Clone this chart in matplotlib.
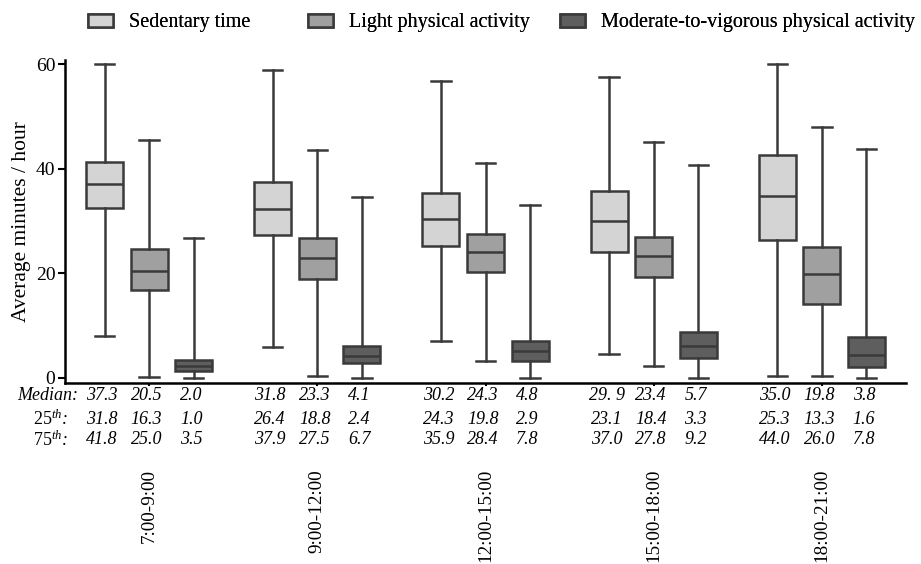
import matplotlib
matplotlib.use("Agg")
import matplotlib.pyplot as plt
import matplotlib.transforms as mtransforms
from matplotlib.patches import Patch

plt.rcParams['font.family'] = ['Liberation Serif', 'DejaVu Serif']
plt.rcParams['mathtext.fontset'] = 'custom'
plt.rcParams['mathtext.rm'] = 'Liberation Serif'
plt.rcParams['mathtext.it'] = 'Liberation Serif:italic'
plt.rcParams['mathtext.default'] = 'it'

# ---------------- data ----------------
periods = ["7:00-9:00", "9:00-12:00", "12:00-15:00", "15:00-18:00", "18:00-21:00"]
series = ["Sedentary time", "Light physical activity",
          "Moderate-to-vigorous physical activity"]

# drawn box statistics: [whislo, q1, median, q3, whishi]
sed_stats = [[8.0, 32.4, 37.1, 41.2, 60.0],
             [5.9, 27.3, 32.2, 37.4, 58.9],
             [7.1, 25.3, 30.4, 35.3, 56.8],
             [4.5, 24.1, 30.0, 35.7, 57.6],
             [0.4, 26.3, 34.7, 42.7, 60.0]]
lpa_stats = [[0.2, 16.7, 20.5, 24.6, 45.5],
             [0.4, 18.9, 23.0, 26.8, 43.5],
             [3.2, 20.3, 24.0, 27.5, 41.1],
             [2.2, 19.3, 23.3, 27.0, 45.2],
             [0.4, 14.2, 19.8, 25.1, 48.0]]
mvpa_stats = [[0.0, 1.3, 2.2, 3.4, 26.8],
              [0.0, 2.8, 4.2, 6.0, 34.6],
              [0.0, 3.2, 5.2, 7.1, 33.0],
              [0.0, 3.8, 6.1, 8.8, 40.8],
              [0.0, 2.1, 4.3, 7.8, 43.7]]

# table under the axis (text as printed)
median_txt = [["37.3", "20.5", "2.0"], ["31.8", "23.3", "4.1"], ["30.2", "24.3", "4.8"],
              ["29. 9", "23.4", "5.7"], ["35.0", "19.8", "3.8"]]
p25_txt = [["31.8", "16.3", "1.0"], ["26.4", "18.8", "2.4"], ["24.3", "19.8", "2.9"],
           ["23.1", "18.4", "3.3"], ["25.3", "13.3", "1.6"]]
p75_txt = [["41.8", "25.0", "3.5"], ["37.9", "27.5", "6.7"], ["35.9", "28.4", "7.8"],
           ["37.0", "27.8", "9.2"], ["44.0", "26.0", "7.8"]]
row_labels = ["Median:", "$25^{th}$:", "$75^{th}$:"]

colors = ["#d4d4d4", "#a0a0a0", "#5e5e5e"]
edge = "#3a3a3a"

# ---------------- figure ----------------
fig = plt.figure(figsize=(9.21, 5.64), dpi=100)
ax = fig.add_axes([65/921, 1-383/564, (906-65)/921, (383-60)/564])

offsets = [-0.265, 0.0, 0.265]
all_stats = [sed_stats, lpa_stats, mvpa_stats]
for k, (st, col) in enumerate(zip(all_stats, colors)):
    stats = []
    for s in st:
        stats.append(dict(whislo=s[0], q1=s[1], med=s[2], q3=s[3], whishi=s[4], fliers=[]))
    pos = [i + offsets[k] for i in range(len(periods))]
    ax.bxp(stats, positions=pos, widths=0.22, capwidths=0.115, patch_artist=True,
           showfliers=False,
           boxprops=dict(facecolor=col, edgecolor=edge, linewidth=1.8),
           medianprops=dict(color=edge, linewidth=1.8),
           whiskerprops=dict(color=edge, linewidth=1.8),
           capprops=dict(color=edge, linewidth=1.8))

ax.set_xlim(-0.5, 4.5)
ax.set_ylim(-1, 60.8)
ax.set_yticks([0, 20, 40, 60])
ax.set_yticklabels(["0", "20", "40", "60"], fontsize=14)
ax.set_xticks(range(len(periods)))
ax.set_xticklabels([""] * len(periods))
ax.tick_params(axis='y', length=5, width=1.5, color='black', pad=2)
ax.tick_params(axis='x', length=2.5, width=1.5, color='black')
for sp in ["top", "right"]:
    ax.spines[sp].set_visible(False)
for sp in ["left", "bottom"]:
    ax.spines[sp].set_linewidth(1.8)
ax.set_ylabel("Average minutes / hour", fontsize=15.5, labelpad=3)

# table text
tr = mtransforms.blended_transform_factory(ax.transData, fig.transFigure)
row_y = [1-396/564, 1-419/564, 1-440/564]
label_x = [-0.423, -0.482, -0.482]
for r, (lab, yy, lx) in enumerate(zip(row_labels, row_y, label_x)):
    ax.text(lx, yy, lab, transform=tr, ha='right', va='center', fontsize=13,
            style='italic', clip_on=False)
for r, (tbl, yy) in enumerate(zip([median_txt, p25_txt, p75_txt], row_y)):
    for i in range(len(periods)):
        for k in range(3):
            ax.text(i + offsets[k] - 0.015, yy, tbl[i][k], transform=tr, ha='center',
                    va='center', fontsize=13, style='italic', clip_on=False)

for i, p in enumerate(periods):
    ax.text(i, 1-469/564, p, transform=tr, rotation=90, ha='center', va='top',
            fontsize=13.8, clip_on=False)

# legend: one entry per legend, placed like the reference
leg_fs = 14.5
leg_px = leg_fs * 100 / 72
leg_x = [88, 308, 560]
for c, s, lx in zip(colors, series, leg_x):
    h = Patch(facecolor=c, edgecolor=edge, linewidth=1.8, label=s)
    lg = fig.legend(handles=[h], loc='center left', bbox_to_anchor=(lx/921, 1-23/564),
                    frameon=False, fontsize=leg_fs, borderpad=0, borderaxespad=0,
                    handlelength=25/leg_px, handleheight=0.6,
                    handletextpad=16/leg_px)
    fig.add_artist(lg)

fig.savefig("out.png", dpi=100)
